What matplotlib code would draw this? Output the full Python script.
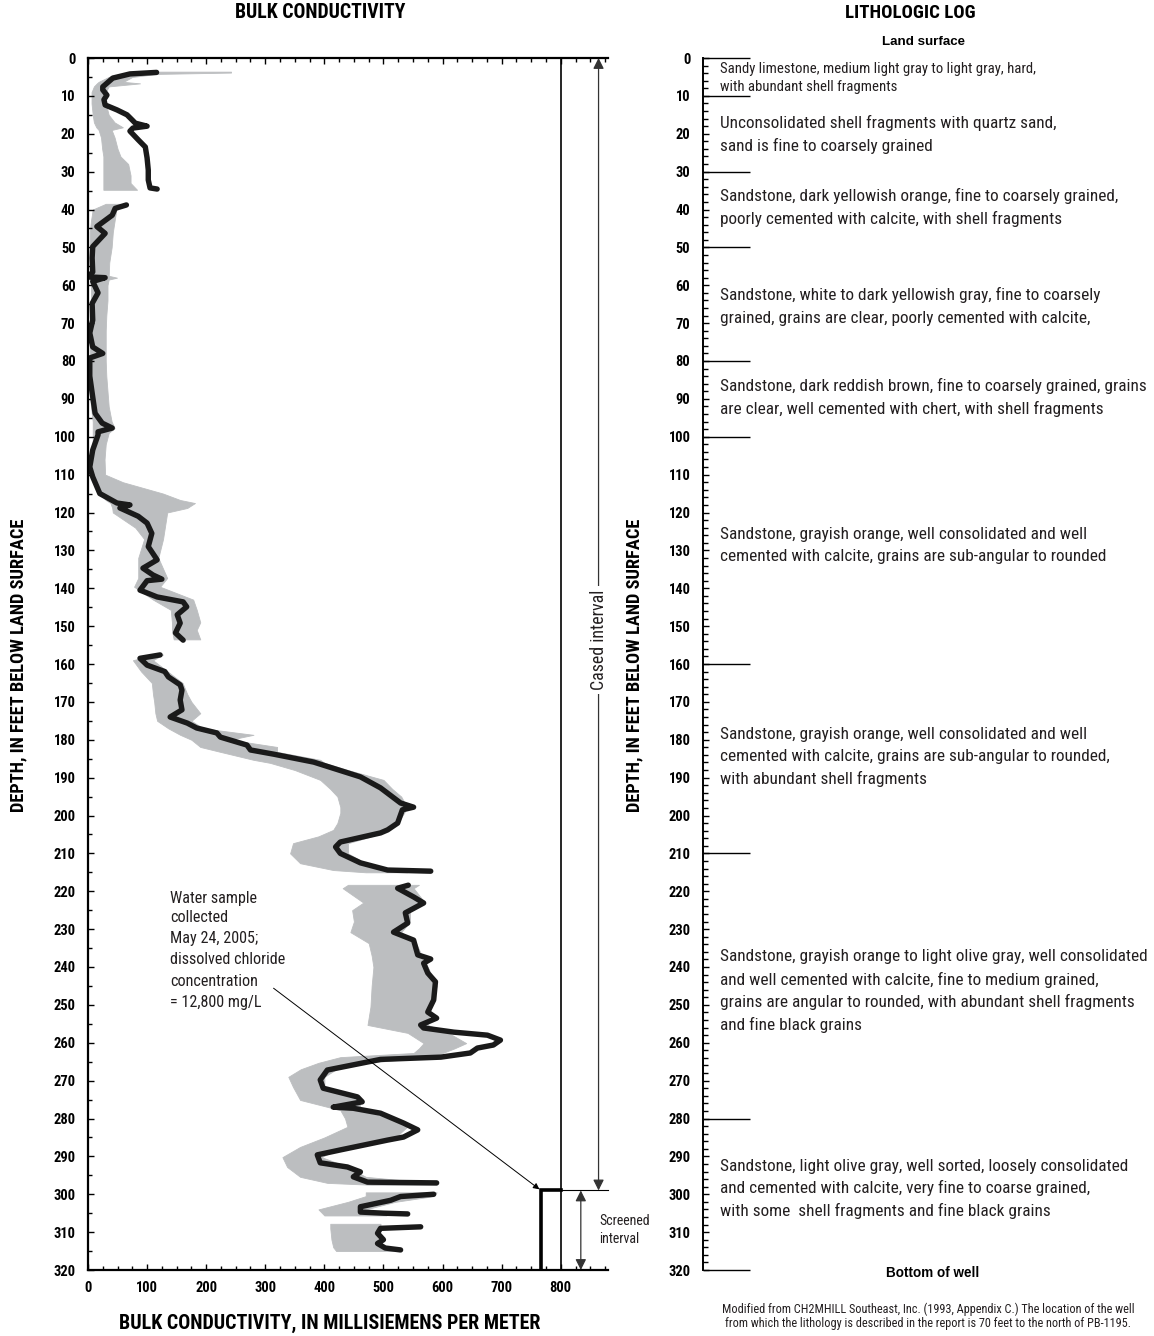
import numpy as np
import matplotlib
matplotlib.use("Agg")
import matplotlib.pyplot as plt
from matplotlib.ticker import MultipleLocator
from matplotlib import font_manager as fm

# ---------------- data: black bulk conductivity trace (mS/m) vs depth (ft) ----------
black_depth_1 = [3.8, 4.2, 5.3, 7.6, 8.4, 9.8, 11, 12.4, 13.7, 15, 16.4, 17.2, 18, 18.5,
                 19.3, 21.6, 23.5, 26.4, 29.6, 32.2, 34.3, 34.6]
black_cond_1 = [116, 71, 42, 25, 25, 32, 27, 29, 49, 66, 75, 80, 100, 76,
                71, 85, 97, 100, 102, 102, 105, 117]

black_depth_2 = [38.8, 39.7, 41.5, 44.5, 46.3, 49.8, 52.8, 56.5, 57.8, 58, 59, 62, 64.8,
                 69.2, 72.6, 76.3, 78, 79.2, 84, 89.5, 93.8, 96.4, 97.7, 98.7, 99.5,
                 103.5, 108, 110.6, 115, 117.5, 118, 118.8, 121, 122.8, 125.5, 129,
                 132.5, 134.7, 136.5, 137.6, 138, 140.5, 142.3, 143.6, 144.9, 147,
                 149.2, 151.8, 153.7]
black_cond_2 = [65, 46, 41, 15, 29, 8, 7, 8, 0, 29, 8, 17, 7,
                8, 3, 8, 25, 3, 3, 8, 12, 24, 41, 17, 17,
                8, 3, 8, 20, 49, 71, 54, 85, 100, 108, 102,
                117, 93, 110, 125, 100, 88, 117, 161, 167, 151,
                156, 148, 161]

black_depth_3 = [157.6, 158.5, 160.3, 162, 163.4, 165.5, 166.9, 169.5, 172.1, 174,
                 175.6, 176.9, 178.2, 179.3, 181.4, 182.7, 183.8, 185.9, 189.8, 192.7,
                 196.7, 197.8, 198.5, 202, 203.8, 204.6, 207, 208.3, 210, 212.5,
                 214.4, 214.7]
black_cond_3 = [122, 88, 100, 130, 136, 156, 159, 156, 159, 139,
                168, 184, 218, 224, 269, 275, 314, 382, 461, 495,
                529, 551, 532, 524, 507, 495, 427, 419, 427, 461,
                507, 580]

black_depth_4 = [218.4, 219.2, 221.5, 223.1, 225.7, 228.4, 230.8, 232.9, 236.8, 237.9,
                 239, 241.6, 243.9, 248.7, 251.9, 253.5, 255.3, 256.1, 257.2, 258,
                 259.3, 260.6, 261.4, 262.7, 263.8, 264.4, 267.2, 269.8, 272, 274.3,
                 275.6, 277, 277.3, 278.6, 281.2, 283, 284.9, 285.7, 288.3, 289.6,
                 291.7, 292.8, 294.1, 295.4, 296.8, 297]
black_cond_4 = [542, 524, 551, 568, 537, 541, 517, 551, 558, 580,
                568, 575, 588, 585, 575, 590, 563, 568, 619, 676,
                698, 686, 659, 647, 597, 495, 405, 393, 398, 456,
                464, 415, 449, 495, 534, 558, 534, 507, 427, 388,
                393, 439, 461, 449, 473, 590]

black_depth_5 = [300.0, 300.6, 301.6, 303.3, 304.7, 305.0, 305.2]
black_cond_5 = [585, 529, 512, 461, 461, 500, 541]

black_depth_6 = [308.6, 309, 310.3, 312, 313, 314.2, 314.7]
black_cond_6 = [563, 495, 490, 500, 490, 503, 529]

# ---------------- data: gray range band (low / high) vs depth ----------------------
gray_depth_1 = [3.6, 3.85, 4.2, 5, 6.3, 6.7, 7.5, 9, 12, 15, 17, 18.3, 19, 21, 24, 26,
                28, 31, 33, 34.8]
gray_low_1 = [110, 110, 55, 35, 18, 15, 10, 6, 6, 8, 10, 14, 18, 22, 24, 26,
              26, 26, 26, 26]
gray_high_1 = [242, 242, 118, 75, 60, 88, 35, 30, 30, 35, 45, 59, 40, 45, 50, 55,
               68, 72, 72, 83]

gray_depth_2 = [38.5, 40, 43, 46, 50, 54, 57.5, 58, 58.5, 60, 64, 68, 72, 76, 80, 84,
                88, 92, 96, 97.7, 99, 102, 106, 110, 112, 115, 116.7, 117.5, 118.8,
                120, 124, 127, 132, 137.3, 139.6, 143, 145.7, 149, 151, 153.5]
gray_low_2 = [30, 8, 5, 3, 3, 3, 3, 0, 3, 5, 5, 3, 3, 3, 3, 3,
              3, 5, 8, 8, 8, 8, 5, 5, 8, 20, 30, 38, 41,
              42, 80, 95, 85, 85, 78, 110, 140, 142, 142, 145]
gray_high_2 = [55, 48, 45, 42, 40, 36, 35, 49, 35, 33, 33, 31, 30, 30, 30, 31,
               33, 35, 40, 45, 35, 30, 28, 29, 59, 127, 156, 181, 168,
               134, 130, 127, 119, 134, 122, 178, 184, 190, 184, 190]

gray_depth_3 = [157.5, 159, 162, 165, 168, 170, 173, 175, 177, 178.7, 180, 181.9, 183.2,
                185.3, 186.1, 188, 190.6, 193, 195, 197.8, 199.3, 202, 203.8, 205.5,
                207.3, 210, 212.6, 214.4, 215]
gray_low_3 = [115, 76, 90, 108, 110, 112, 114, 117, 136, 156, 175, 190, 224,
              280, 308, 350, 393, 410, 422, 427, 427, 422, 415, 390,
              347, 342, 359, 415, 470]
gray_high_3 = [127, 110, 135, 160, 168, 175, 190, 175, 195, 280, 240, 320, 320,
               393, 400, 440, 500, 515, 530, 540, 535, 524, 505, 480,
               440, 440, 470, 510, 540]

gray_depth_4 = [218.3, 219.2, 223, 225, 228, 230.8, 233.7, 237, 240, 245, 250.5, 255.3,
                257.4, 260.1, 261.5, 262.7, 263.8, 265.3, 267, 269, 271.7, 275.1,
                277.8, 280, 282.2, 285, 287.5, 290.2, 292.8, 295.4, 297, 297.5]
gray_low_4 = [440, 431, 466, 447, 450, 444, 475, 480, 483, 480, 478, 473,
              541, 568, 560, 551, 427, 390, 360, 339, 347, 359,
              427, 435, 439, 400, 359, 329, 337, 359, 405, 480]
gray_high_4 = [560, 551, 570, 545, 545, 530, 555, 565, 575, 590, 580, 575,
               610, 640, 620, 600, 580, 470, 420, 400, 400, 460,
               460, 510, 540, 520, 430, 395, 440, 470, 580, 590]

gray_depth_5 = [299.5, 300.5, 302, 304, 305.6]
gray_low_5 = [470, 470, 440, 390, 400]
gray_high_5 = [590, 585, 520, 470, 505]

gray_depth_6 = [307.8, 309, 312, 314, 315]
gray_low_6 = [410, 410, 412, 415, 420]
gray_high_6 = [495, 495, 490, 500, 530]

depth_ticks = list(range(0, 330, 10))
cond_ticks = list(range(0, 900, 100))

litho_bounds = [0, 10, 30, 50, 80, 100, 160, 210, 280, 320]
litho_lines = [
    ["Sandy limestone, medium light gray to light gray, hard,",
     "with abundant shell fragments"],
    ["Unconsolidated shell fragments with quartz sand,",
     "sand is fine to coarsely grained"],
    ["Sandstone, dark yellowish orange, fine to coarsely grained,",
     "poorly cemented with calcite, with shell fragments"],
    ["Sandstone, white to dark yellowish gray, fine to coarsely",
     "grained, grains are clear, poorly cemented with calcite,"],
    ["Sandstone, dark reddish brown, fine to coarsely grained, grains",
     "are clear, well cemented with chert, with shell fragments"],
    ["Sandstone, grayish orange, well consolidated and well",
     "cemented with calcite, grains are sub-angular to rounded"],
    ["Sandstone, grayish orange, well consolidated and well",
     "cemented with calcite, grains are sub-angular to rounded,",
     "with abundant shell fragments"],
    ["Sandstone, grayish orange to light olive gray, well consolidated",
     "and well cemented with calcite, fine to medium grained,",
     "grains are angular to rounded, with abundant shell fragments",
     "and fine black grains"],
    ["Sandstone, light olive gray, well sorted, loosely consolidated",
     "and cemented with calcite, very fine to coarse grained,",
     "with some  shell fragments and fine black grains"],
]
litho_line_y = [[69, 87], [123, 146], [196, 219], [295, 318], [386, 409], [534, 557],
                [734, 756, 779], [957, 980, 1002, 1025], [1166, 1188, 1211]]

note_lines = ["Water sample", "collected", "May 24, 2005;", "dissolved chloride",
              "concentration", "= 12,800 mg/L"]
note_y = [898, 918, 939, 960, 981, 1002]

casing_bottom = 299
screen_left = 766
casing_x = 800

# ---------------- font choice ----------------
def pick_font():
    names = {f.name for f in fm.fontManager.ttflist}
    for n in ['Liberation Sans Narrow', 'Arial Narrow', 'Roboto Condensed',
              'Open Sans Condensed', 'Noto Sans Condensed', 'DejaVu Sans Condensed']:
        if n in names:
            return n, 'normal'
    for n in ['Noto Sans', 'Open Sans', 'DejaVu Sans', 'Roboto', 'Liberation Sans']:
        for f in fm.fontManager.ttflist:
            if f.name == n and str(f.stretch) in ('condensed', 'semi-condensed', 'extra-condensed'):
                return n, 'condensed'
    return 'Liberation Sans', 'normal'


FAM, STR = pick_font()
plt.rcParams['font.family'] = [FAM, 'DejaVu Sans']
plt.rcParams['font.stretch'] = STR
WIDE = ['Liberation Sans', 'DejaVu Sans']

# ---------------- figure ----------------
W, H = 1154, 1336
fig = plt.figure(figsize=(W / 100, H / 100), dpi=100)
GRAY = '#bcbec0'
TXT = '#231f20'


def fx(x):
    return x / W


def fy(y):
    return 1 - y / H


renderer = fig.canvas.get_renderer()


def fit(t, target, vertical=False):
    bb = t.get_window_extent(renderer)
    w = bb.height if vertical else bb.width
    if w > 0:
        t.set_fontsize(t.get_fontsize() * target / w)
    return t.get_fontsize()


ax = fig.add_axes([fx(88), fy(1270), (608 - 88) / W, (1270 - 58) / H])
ax.set_xlim(0, 880)
ax.set_ylim(320, 0)

grays = [(gray_depth_1, gray_low_1, gray_high_1), (gray_depth_2, gray_low_2, gray_high_2),
         (gray_depth_3, gray_low_3, gray_high_3), (gray_depth_4, gray_low_4, gray_high_4),
         (gray_depth_5, gray_low_5, gray_high_5), (gray_depth_6, gray_low_6, gray_high_6)]
for d, lo, hi in grays:
    ax.fill_betweenx(d, lo, hi, color=GRAY, lw=0.6, edgecolor=GRAY)

blacks = [(black_depth_1, black_cond_1), (black_depth_2, black_cond_2),
          (black_depth_3, black_cond_3), (black_depth_4, black_cond_4),
          (black_depth_5, black_cond_5), (black_depth_6, black_cond_6)]
for d, v in blacks:
    ax.plot(v, d, color='#1a1a1a', lw=3.9, solid_capstyle='round', solid_joinstyle='round')

ax.spines['right'].set_visible(False)
for s in ['left', 'top', 'bottom']:
    ax.spines[s].set_linewidth(1.6)

# tick label size fitted so "320" is ~22 px wide in bold
probe = fig.text(0, 0, '320', fontsize=10, fontweight='bold')
tick_fs = fit(probe, 22)
probe.remove()

ax.set_xticks(cond_ticks)
ax.xaxis.set_minor_locator(MultipleLocator(25))
ax.set_yticks(depth_ticks)
ax.yaxis.set_minor_locator(MultipleLocator(5))
ax.tick_params(axis='x', which='both', direction='in', top=True, bottom=True, width=1.0)
ax.tick_params(axis='y', which='both', direction='in', left=True, right=False, width=1.0)
ax.tick_params(which='major', length=4.5)
ax.tick_params(which='minor', length=3)
ax.tick_params(axis='x', pad=8)
ax.tick_params(axis='y', pad=9)
for lab in ax.get_xticklabels() + ax.get_yticklabels():
    lab.set_fontweight('bold')
    lab.set_fontsize(tick_fs)

# casing / screen diagram
ax.plot([casing_x, casing_x], [0, 320], color='black', lw=1.2, clip_on=False)
ax.plot([screen_left, screen_left, casing_x], [320, casing_bottom, casing_bottom],
        color='black', lw=2.6, solid_joinstyle='miter')
ax.plot([casing_x, 880], [casing_bottom, casing_bottom], color='black', lw=0.8, clip_on=False)
ax.annotate('', xy=(864, 0), xytext=(864, casing_bottom),
            arrowprops=dict(arrowstyle='<|-|>', color='#333333', lw=0.9,
                            mutation_scale=16, shrinkA=0, shrinkB=0))
ct = ax.text(864, 153.6, 'Cased interval', rotation=90, ha='center', va='center',
             fontsize=9.5, color=TXT, bbox=dict(facecolor='white', edgecolor='none', pad=2))
fit(ct, 100, vertical=True)
ax.annotate('', xy=(834, casing_bottom), xytext=(834, 320),
            arrowprops=dict(arrowstyle='<|-|>', color='#333333', lw=0.9,
                            mutation_scale=16, shrinkA=0, shrinkB=0))
s1 = fig.text(fx(599), fy(1221), 'Screened', ha='left', va='center', fontsize=9.5, color=TXT)
sfs = fit(s1, 51)
fig.text(fx(599), fy(1239), 'interval', ha='left', va='center', fontsize=sfs, color=TXT)

# water sample note
probe = fig.text(0, 0, note_lines[3], fontsize=10)
nfs = fit(probe, 115)
probe.remove()
for t, yy in zip(note_lines, note_y):
    fig.text(fx(170), fy(yy), t, ha='left', va='center', fontsize=nfs, color=TXT)
ax.annotate('', xy=(764, casing_bottom - 0.3), xytext=(314, 245.6),
            arrowprops=dict(arrowstyle='-|>', color='black', lw=0.7,
                            mutation_scale=9, shrinkA=0, shrinkB=0))

# ---------------- lithologic log ----------------
ax2 = fig.add_axes([fx(703), fy(1270), (W - 703) / W, (1270 - 58) / H])
ax2.set_xlim(0, 1)
ax2.set_ylim(320, 0)
for s in ['right', 'top', 'bottom']:
    ax2.spines[s].set_visible(False)
ax2.spines['left'].set_linewidth(1.4)
ax2.set_xticks([])
ax2.set_yticks(depth_ticks)
ax2.yaxis.set_minor_locator(MultipleLocator(2))
ax2.tick_params(axis='y', which='both', direction='in', width=1.0, pad=9)
ax2.tick_params(which='major', length=4)
ax2.tick_params(which='minor', length=3.5)
for lab in ax2.get_yticklabels():
    lab.set_fontweight('bold')
    lab.set_fontsize(tick_fs)
ax2.hlines(litho_bounds, 0, 47 / 451, color='black', lw=1.0, clip_on=False)

probe = fig.text(0, 0, litho_lines[2][0], fontsize=11)
lfs = fit(probe, 398)
probe.remove()
probe = fig.text(0, 0, litho_lines[0][0], fontsize=9)
l0fs = fit(probe, 315)
probe.remove()
for i, (lines, ys) in enumerate(zip(litho_lines, litho_line_y)):
    for t, yy in zip(lines, ys):
        fig.text(fx(720), fy(yy), t, ha='left', va='center',
                 fontsize=l0fs if i == 0 else lfs, color=TXT)

# ---------------- titles / labels ----------------
t = fig.text(fx(320), fy(13), 'BULK CONDUCTIVITY', ha='center', va='center',
             fontsize=11, fontweight='bold')
fit(t, 170)
t = fig.text(fx(910), fy(13), 'LITHOLOGIC LOG', ha='center', va='center',
             fontsize=11, fontweight='bold')
fit(t, 130)
t = fig.text(fx(924), fy(42), 'Land surface', ha='center', va='center',
             fontsize=9.3, fontweight='bold', family=WIDE, stretch='normal')
fit(t, 83)
t = fig.text(fx(933), fy(1273), 'Bottom of well', ha='center', va='center',
             fontsize=10, fontweight='bold', family=WIDE, stretch='normal')
fit(t, 93)
f1 = fig.text(fx(928), fy(1309), 'Modified from CH2MHILL Southeast, Inc. (1993, Appendix C.) '
              'The location of the well', ha='center', va='center', fontsize=8.2, color=TXT)
ffs = fit(f1, 412)
fig.text(fx(928), fy(1323), 'from which the lithology is described in the report is 70 feet '
         'to the north of PB-1195.', ha='center', va='center', fontsize=ffs, color=TXT)
t = fig.text(fx(330), fy(1323), 'BULK CONDUCTIVITY, IN MILLISIEMENS PER METER', ha='center',
             va='center', fontsize=11.3, fontweight='bold')
fit(t, 422)
t1 = fig.text(fx(18), fy(665), 'DEPTH, IN FEET BELOW LAND SURFACE', ha='center', va='center',
              rotation=90, fontsize=11.3, fontweight='bold')
yfs = fit(t1, 295, vertical=True)
fig.text(fx(634), fy(665), 'DEPTH, IN FEET BELOW LAND SURFACE', ha='center', va='center',
         rotation=90, fontsize=yfs, fontweight='bold')

fig.savefig('out.png', dpi=100, facecolor='white')
